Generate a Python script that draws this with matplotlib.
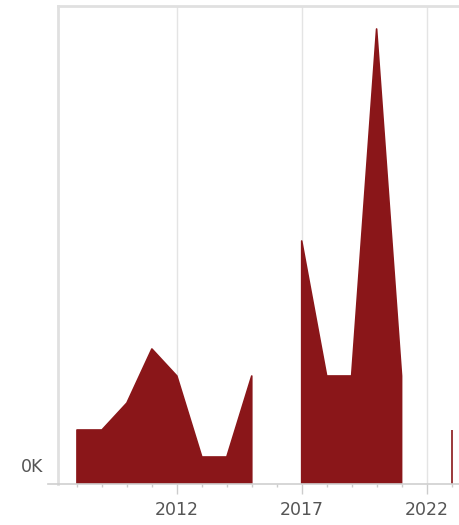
import numpy as np
import matplotlib
matplotlib.use("Agg")
import matplotlib.pyplot as plt
import matplotlib.transforms as mtransforms

# yearly values (gaps where no data)
years = [2008, 2009, 2010, 2011, 2012, 2013, 2014, 2015, 2016,
         2017, 2018, 2019, 2020, 2021, 2022, 2023]
values = [2, 2, 3, 5, 4, 1, 1, 4, np.nan,
          9, 4, 4, 16.85, 4, np.nan, 2]
major_years = [2012, 2017, 2022]
major_labels = ["2012", "2017", "2022"]

fill_color = "#8a1619"
grid_color = "#e4e4e4"
text_color = "#555555"

fig = plt.figure(figsize=(4.59, 5.25), dpi=100)
ax = fig.add_axes([58 / 459, 1 - 484 / 525, 1 - 58 / 459, 478 / 525])

x = np.array(years, dtype=float)
y = np.array(values, dtype=float)
ok = ~np.isnan(y)
ax.fill_between(x, 0, np.where(ok, y, 0), where=ok, interpolate=False,
                facecolor=fill_color, edgecolor=fill_color, linewidth=1.2, zorder=3)

ax.set_xlim(2007.24, 2023.3)
ax.set_ylim(0, 17.7)

ax.set_xticks(major_years)
ax.set_xticklabels(major_labels, fontsize=12.5, color=text_color)
ax.set_xticks(years, minor=True)
ax.tick_params(axis="x", which="major", length=7, width=1, color="#cccccc", pad=5)
ax.tick_params(axis="x", which="minor", length=2, width=1, color="#cccccc")
ax.set_yticks([])

ax.grid(axis="x", which="major", color=grid_color, linewidth=1, zorder=0)

for side in ["right", "bottom"]:
    ax.spines[side].set_visible(False)
for side in ["left", "top"]:
    ax.spines[side].set_color("#e0e0e0")
    ax.spines[side].set_linewidth(2)

# baseline sticking out a bit to the left
ax.plot([-0.025, 1], [0, 0], transform=ax.transAxes, color="#cfcfcf",
        linewidth=1.2, clip_on=False, zorder=4)

trans = mtransforms.blended_transform_factory(ax.transAxes, ax.transData)
off = mtransforms.ScaledTranslation(-0.15, 0.08, fig.dpi_scale_trans)
ax.text(0, 0, "0K", transform=trans + off, ha="right", va="bottom",
        fontsize=12.5, color=text_color)

fig.savefig("out.png", dpi=100)
